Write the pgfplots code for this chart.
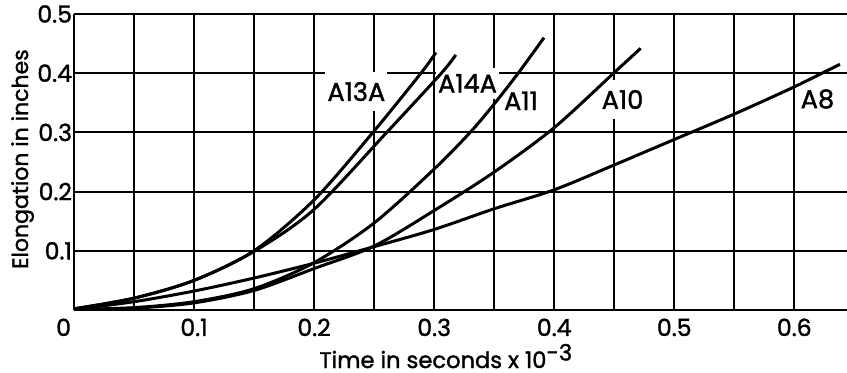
\documentclass[border=0pt]{standalone}
\usepackage{fontspec}
\setmainfont{Poppins}[FakeBold=1.5,AutoFakeBold=1.5]
\usepackage{pgfplots}
\pgfplotsset{compat=1.18}
\begin{document}
\begin{tikzpicture}
\begin{axis}[
  set layers=standard,
  scale only axis,
  width=386.5pt, height=148pt,
  xmin=0, xmax=0.6439, ymin=0, ymax=0.5,
  axis line style={draw=none},
  xtick={0,0.05,0.1,0.15,0.2,0.25,0.3,0.35,0.4,0.45,0.5,0.55,0.6},
  xticklabels={\makebox[0pt][r]{0\hspace{1.5pt}},,0.1,,0.2,,0.3,,0.4,,0.5,,0.6},
  ytick={0,0.1,0.2,0.3,0.4,0.5},
  yticklabels={,0.1,0.2,0.3,0.4,0.5},
  major tick length=0pt,
  grid=major,
  grid style={line width=1pt, black},
  tick label style={font=\fontsize{11.8}{13}\selectfont\bfseries},
  xticklabel style={anchor=base, yshift=-13pt},
  yticklabel style={anchor=east, inner xsep=0.8pt},
  xlabel={Time in seconds x 10\raisebox{0.6ex}{-3}},
  ylabel={Elongation in inches},
  every axis x label/.style={at={(rel axis cs:0.481,-0.196)}, anchor=base, font=\fontsize{11.3}{13}\selectfont\bfseries},
  every axis y label/.style={at={(rel axis cs:-0.0595,0.51)}, rotate=90, anchor=base, font=\fontsize{11}{13}\selectfont\bfseries},
  clip=false,
]
\begin{pgfonlayer}{pre main}
\node[fill=white, inner xsep=1pt, inner ysep=5pt, font=\fontsize{12.8}{14}\selectfont\bfseries] at (axis cs:0.2352,0.369) {A13A};
\node[fill=white, inner xsep=1pt, inner ysep=3pt, font=\fontsize{12.8}{14}\selectfont\bfseries] at (axis cs:0.3278,0.383) {A14A};
\node[fill=white, inner xsep=1pt, inner ysep=3pt, font=\fontsize{12.8}{14}\selectfont\bfseries] at (axis cs:0.3723,0.3534) {A11};
\node[fill=white, inner xsep=1pt, inner ysep=5pt, font=\fontsize{12.8}{14}\selectfont\bfseries] at (axis cs:0.4569,0.3556) {A10};
\node[fill=white, inner xsep=1pt, inner ysep=3pt, font=\fontsize{12.8}{14}\selectfont\bfseries] at (axis cs:0.6193,0.3564) {A8};
\end{pgfonlayer}
% A13A
\addplot[line width=1.5pt, smooth] coordinates {(0,0.002) (0.05,0.02) (0.1,0.05) (0.15,0.1) (0.2,0.186) (0.249,0.3) (0.289,0.4) (0.3015,0.435)};
% A14A
\addplot[line width=1.5pt, smooth] coordinates {(0,0.002) (0.05,0.02) (0.1,0.05) (0.15,0.099) (0.2,0.17) (0.2605,0.3) (0.306,0.4) (0.318,0.431)};
% A11
\addplot[line width=1.5pt, smooth] coordinates {(0,0.001) (0.05,0.004) (0.1,0.014) (0.15,0.036) (0.2,0.08) (0.25,0.147) (0.3,0.238) (0.33,0.3) (0.35,0.348) (0.37,0.4) (0.3915,0.46)};
% A10
\addplot[line width=1.5pt, smooth] coordinates {(0,0.001) (0.05,0.003) (0.1,0.012) (0.15,0.033) (0.2,0.07) (0.25,0.108) (0.3,0.168) (0.35,0.233) (0.4,0.308) (0.45,0.401) (0.472,0.442)};
% A8
\addplot[line width=1.5pt, smooth] coordinates {(0,0.001) (0.05,0.014) (0.1,0.032) (0.15,0.054) (0.2,0.079) (0.25,0.107) (0.3,0.136) (0.35,0.171) (0.4,0.203) (0.45,0.245) (0.5,0.288) (0.55,0.331) (0.6,0.377) (0.638,0.415)};
\coordinate (bbsw) at (rel axis cs:-0.09573,-0.21284);
\coordinate (bbne) at (rel axis cs:1,1.0473);
\end{axis}
\pgfresetboundingbox
\path (bbsw) rectangle (bbne);
\end{tikzpicture}
\end{document}
